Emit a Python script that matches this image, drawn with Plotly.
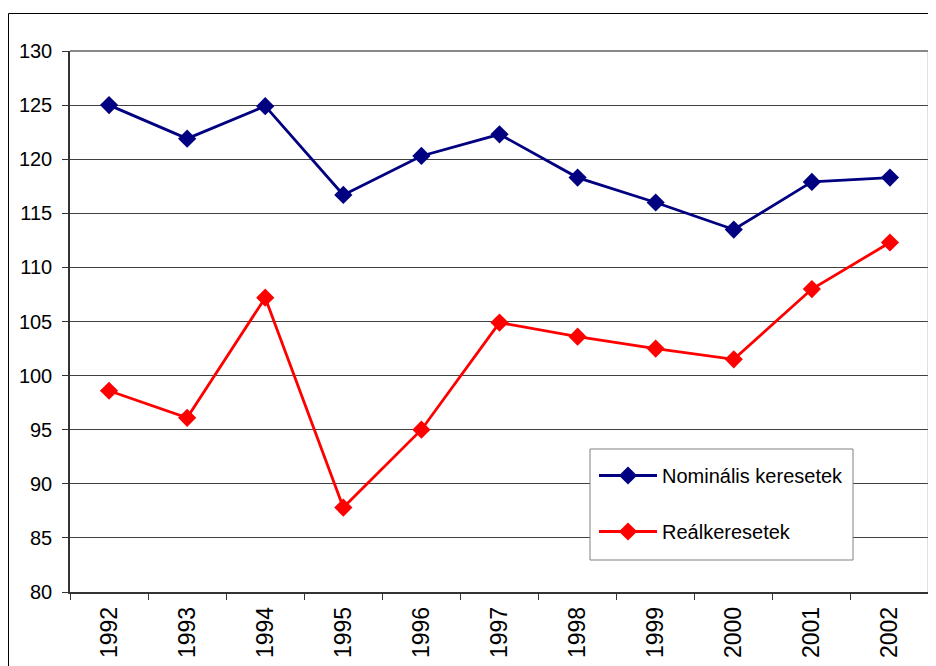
import plotly.graph_objects as go

years = ["1992", "1993", "1994", "1995", "1996", "1997", "1998", "1999", "2000", "2001", "2002"]
nominal = [125.0, 121.9, 124.9, 116.7, 120.3, 122.3, 118.3, 116.0, 113.5, 117.9, 118.3]
real = [98.6, 96.1, 107.2, 87.8, 95.0, 104.9, 103.6, 102.5, 101.5, 108.0, 112.3]
y_ticks = [80, 85, 90, 95, 100, 105, 110, 115, 120, 125, 130]

# page body has an 8px margin; figure coordinates are reference minus 8
OFF = 8
W, H = 928, 658
L, R, T, B = 70 - OFF, 7, 51 - OFF, 74
pw, ph = W - L - R, H - T - B

def px_x(p):
    return (p - OFF - L) / pw

def px_y(p):
    return (H - B - (p - OFF)) / ph

fig = go.Figure()
fig.add_trace(go.Scatter(
    x=years, y=nominal, name="Nominális keresetek", mode="lines+markers",
    line=dict(color="#000080", width=2.8),
    marker=dict(symbol="diamond", size=14, color="#000080"),
    legendgroup="a",
))
fig.add_trace(go.Scatter(
    x=years, y=real, name="Reálkeresetek", mode="lines+markers",
    line=dict(color="#FF0000", width=2.8),
    marker=dict(symbol="diamond", size=14, color="#FF0000"),
    legendgroup="b",
))

shapes = [
    # outer chart frame
    dict(type="rect", xref="paper", yref="paper",
         x0=px_x(8.5), x1=px_x(1200), y0=px_y(900), y1=px_y(13.5),
         line=dict(color="#000000", width=1), layer="below"),
    # plot area gray top/right border
    dict(type="line", xref="paper", yref="paper", x0=0, x1=1, y0=1, y1=1,
         line=dict(color="#888888", width=2)),
    dict(type="line", xref="paper", yref="paper", x0=1, x1=1, y0=0, y1=1,
         line=dict(color="#888888", width=2.5)),
    # legend box
    dict(type="rect", xref="paper", yref="paper",
         x0=px_x(590), x1=px_x(853), y0=px_y(560), y1=px_y(449),
         line=dict(color="#808080", width=1), fillcolor="white", layer="above"),
]

fig.update_layout(
    width=W, height=H,
    margin=dict(l=L, r=R, t=T, b=B),
    paper_bgcolor="white", plot_bgcolor="white",
    font=dict(family="Arial, Liberation Sans, sans-serif", size=20, color="#000000"),
    showlegend=True,
    legend=dict(
        x=px_x(594), y=px_y(456), xanchor="left", yanchor="top",
        bgcolor="rgba(0,0,0,0)", borderwidth=0,
        traceorder="grouped", tracegroupgap=27,
        itemwidth=58, font=dict(size=20),
    ),
    shapes=shapes,
    xaxis=dict(
        type="category", range=[-0.5, 10.5], tickson="boundaries",
        ticks="outside", ticklen=6, tickcolor="#333333",
        showline=True, linecolor="#333333", linewidth=1.5,
        showgrid=False, tickangle=-90, tickfont=dict(size=23),
        ticklabelstandoff=4, fixedrange=True,
    ),
    yaxis=dict(
        range=[80, 130], tickvals=y_ticks, ticks="outside", ticklen=6,
        tickcolor="#333333", showline=True, linecolor="#333333", linewidth=1.5,
        showgrid=True, gridcolor="#404040", gridwidth=1, zeroline=False,
        tickfont=dict(size=20), ticklabelstandoff=6,
    ),
)

fig.write_html("out.html")
